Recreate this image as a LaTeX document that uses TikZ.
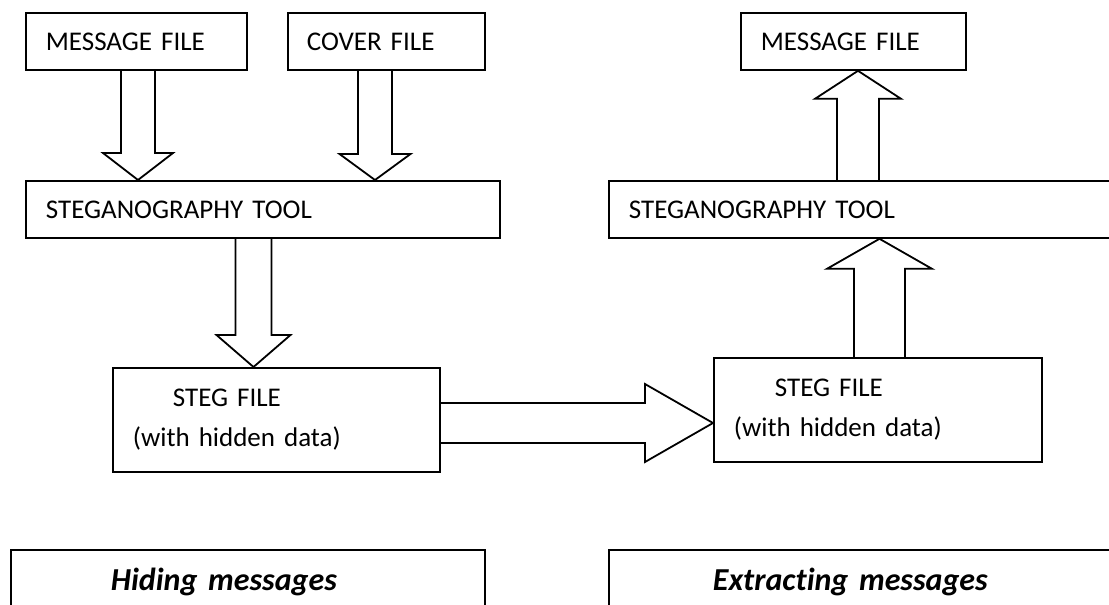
\documentclass[tikz,border=0pt]{standalone}
\usepackage{fontspec}
\setmainfont[Ligatures=NoCommon]{Carlito}
\usetikzlibrary{calc}
\tikzset{
  box/.style      = {draw, line width=1.8pt, anchor=north west, align=left,
                     inner ysep=0pt, font=\fontsize{27}{40}\selectfont},
  caption/.style  = {box, font=\fontsize{32}{38}\selectfont\bfseries\itshape},
  blockline/.style= {line width=1.8pt, line join=miter},
}
% #1 start, #2 tip, #3 half shaft, #4 half head, #5 head length
\newcommand{\blockarrow}[5]{%
  \coordinate (ba-h) at ($(#2)!#5!(#1)$);
  \draw[blockline] ($(#1)!#3!90:(#2)$) -- ($(ba-h)!#3!90:(#2)$) -- ($(ba-h)!#4!90:(#2)$)
    -- (#2) -- ($(ba-h)!#4!-90:(#2)$) -- ($(ba-h)!#3!-90:(#2)$) -- ($(#1)!#3!-90:(#2)$);
}

\begin{document}
\begin{tikzpicture}[x=1pt, y=-1pt]
  \useasboundingbox (0,0) rectangle (1109,605);
  \clip (0,0) rectangle (1109,605);

  % Hiding side
  \node[box, inner xsep=20pt, text width=181pt, text height=38pt, text depth=19pt] (msgL) at (25,12) {MESSAGE FILE};
  \node[box, inner xsep=19pt, text width=159pt, text height=38pt, text depth=19pt] (cover) at (287,12) {COVER FILE};
  \node[box, inner xsep=20pt, text width=434pt, text height=38pt, text depth=19pt] (toolL) at (25,180) {STEGANOGRAPHY TOOL};
  \node[box, inner xsep=20pt, text width=287pt, minimum height=104pt] (stegL) at (112,367)
    {\hspace*{40pt}STEG FILE\\(with hidden data)};

  % Extracting side
  \node[box, inner xsep=20pt, text width=288pt, minimum height=104pt] (stegR) at (713,357)
    {\hspace*{41pt}STEG FILE\\(with hidden data)};
  \node[box, inner xsep=20pt, text width=472pt, text height=38pt, text depth=19pt] (toolR) at (608,180) {STEGANOGRAPHY TOOL};
  \node[box, inner xsep=20pt, text width=185pt, text height=38pt, text depth=19pt] (msgR) at (740,12) {MESSAGE FILE};

  % Captions
  \node[caption, inner xsep=100pt, text width=274pt, text height=41pt, text depth=80pt] (hide) at (10,549) {Hiding messages};
  \node[caption, inner xsep=104pt, text width=314pt, text height=41pt, text depth=80pt] (extract) at (608,549) {Extracting messages};

  % Block arrows
  \coordinate (a1s) at ([xshift=113pt]msgL.south west);
  \coordinate (a1e) at (a1s |- toolL.north);
  \blockarrow{a1s}{a1e}{17pt}{35pt}{27pt}
  \coordinate (a2s) at ([xshift=88pt]cover.south west);
  \coordinate (a2e) at (a2s |- toolL.north);
  \blockarrow{a2s}{a2e}{17pt}{35.5pt}{26pt}
  \coordinate (a3s) at ([xshift=228.5pt]toolL.south west);
  \coordinate (a3e) at (a3s |- stegL.north);
  \blockarrow{a3s}{a3e}{18pt}{37pt}{32pt}
  \coordinate (a4s) at ([yshift=-56pt]stegL.north east);
  \coordinate (a4e) at (a4s -| stegR.west);
  \blockarrow{a4s}{a4e}{20pt}{39pt}{68pt}
  \coordinate (a5s) at ([xshift=166.5pt]stegR.north west);
  \coordinate (a5e) at (a5s |- toolR.south);
  \blockarrow{a5s}{a5e}{25.5pt}{52.5pt}{30pt}
  \coordinate (a6s) at ([xshift=250pt]toolR.north west);
  \coordinate (a6e) at (a6s |- msgR.south);
  \blockarrow{a6s}{a6e}{21pt}{43pt}{28pt}
\end{tikzpicture}
\end{document}
